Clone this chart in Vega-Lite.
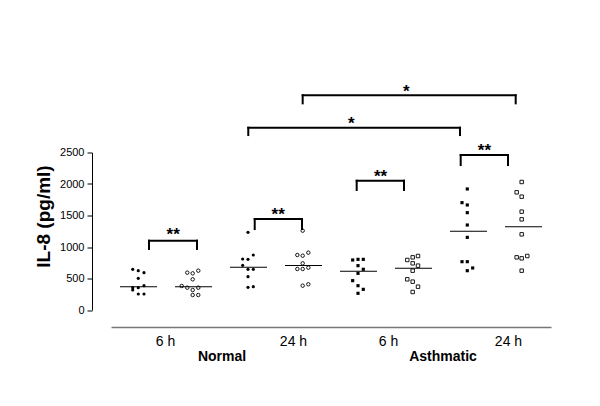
{
  "$schema": "https://vega.github.io/schema/vega-lite/v6.json",
  "autosize": {"type": "none"},
  "width": 440,
  "height": 157.5,
  "padding": {"left": 111, "top": 152.5, "right": 49, "bottom": 96},
  "background": "white",
  "config": {"view": {"stroke": null}, "font": "Liberation Sans", "axis": {"grid": false}},
  "datasets": {
    "points": [
      {"group": "Normal", "time": "6 h", "series": "a", "col": 1, "x": 0.895, "il8": 646},
      {"group": "Normal", "time": "6 h", "series": "a", "col": 1, "x": 0.996, "il8": 624},
      {"group": "Normal", "time": "6 h", "series": "a", "col": 1, "x": 1.1, "il8": 593},
      {"group": "Normal", "time": "6 h", "series": "a", "col": 1, "x": 0.996, "il8": 503},
      {"group": "Normal", "time": "6 h", "series": "a", "col": 1, "x": 0.895, "il8": 354},
      {"group": "Normal", "time": "6 h", "series": "a", "col": 1, "x": 0.895, "il8": 317},
      {"group": "Normal", "time": "6 h", "series": "a", "col": 1, "x": 0.996, "il8": 354},
      {"group": "Normal", "time": "6 h", "series": "a", "col": 1, "x": 1.1, "il8": 386},
      {"group": "Normal", "time": "6 h", "series": "a", "col": 1, "x": 0.996, "il8": 254},
      {"group": "Normal", "time": "6 h", "series": "a", "col": 1, "x": 1.1, "il8": 254},
      {"group": "Normal", "time": "6 h", "series": "b", "col": 2, "x": 1.887, "il8": 593},
      {"group": "Normal", "time": "6 h", "series": "b", "col": 2, "x": 1.985, "il8": 582},
      {"group": "Normal", "time": "6 h", "series": "b", "col": 2, "x": 2.087, "il8": 624},
      {"group": "Normal", "time": "6 h", "series": "b", "col": 2, "x": 1.985, "il8": 487},
      {"group": "Normal", "time": "6 h", "series": "b", "col": 2, "x": 1.785, "il8": 381},
      {"group": "Normal", "time": "6 h", "series": "b", "col": 2, "x": 1.887, "il8": 354},
      {"group": "Normal", "time": "6 h", "series": "b", "col": 2, "x": 1.985, "il8": 317},
      {"group": "Normal", "time": "6 h", "series": "b", "col": 2, "x": 2.087, "il8": 354},
      {"group": "Normal", "time": "6 h", "series": "b", "col": 2, "x": 1.985, "il8": 238},
      {"group": "Normal", "time": "6 h", "series": "b", "col": 2, "x": 2.087, "il8": 238},
      {"group": "Normal", "time": "24 h", "series": "a", "col": 3, "x": 2.991, "il8": 1233},
      {"group": "Normal", "time": "24 h", "series": "a", "col": 3, "x": 2.894, "il8": 810},
      {"group": "Normal", "time": "24 h", "series": "a", "col": 3, "x": 2.991, "il8": 804},
      {"group": "Normal", "time": "24 h", "series": "a", "col": 3, "x": 3.087, "il8": 873},
      {"group": "Normal", "time": "24 h", "series": "a", "col": 3, "x": 2.894, "il8": 709},
      {"group": "Normal", "time": "24 h", "series": "a", "col": 3, "x": 2.991, "il8": 646},
      {"group": "Normal", "time": "24 h", "series": "a", "col": 3, "x": 3.087, "il8": 646},
      {"group": "Normal", "time": "24 h", "series": "a", "col": 3, "x": 2.991, "il8": 529},
      {"group": "Normal", "time": "24 h", "series": "a", "col": 3, "x": 2.991, "il8": 360},
      {"group": "Normal", "time": "24 h", "series": "a", "col": 3, "x": 3.087, "il8": 370},
      {"group": "Normal", "time": "24 h", "series": "b", "col": 4, "x": 3.985, "il8": 1259},
      {"group": "Normal", "time": "24 h", "series": "b", "col": 4, "x": 3.888, "il8": 873},
      {"group": "Normal", "time": "24 h", "series": "b", "col": 4, "x": 3.985, "il8": 862},
      {"group": "Normal", "time": "24 h", "series": "b", "col": 4, "x": 4.088, "il8": 910},
      {"group": "Normal", "time": "24 h", "series": "b", "col": 4, "x": 3.985, "il8": 741},
      {"group": "Normal", "time": "24 h", "series": "b", "col": 4, "x": 3.888, "il8": 651},
      {"group": "Normal", "time": "24 h", "series": "b", "col": 4, "x": 3.985, "il8": 651},
      {"group": "Normal", "time": "24 h", "series": "b", "col": 4, "x": 4.088, "il8": 672},
      {"group": "Normal", "time": "24 h", "series": "b", "col": 4, "x": 3.985, "il8": 386},
      {"group": "Normal", "time": "24 h", "series": "b", "col": 4, "x": 4.088, "il8": 408},
      {"group": "Asthmatic", "time": "6 h", "series": "a", "col": 5, "x": 4.894, "il8": 794},
      {"group": "Asthmatic", "time": "6 h", "series": "a", "col": 5, "x": 4.991, "il8": 804},
      {"group": "Asthmatic", "time": "6 h", "series": "a", "col": 5, "x": 5.087, "il8": 804},
      {"group": "Asthmatic", "time": "6 h", "series": "a", "col": 5, "x": 4.991, "il8": 704},
      {"group": "Asthmatic", "time": "6 h", "series": "a", "col": 5, "x": 5.087, "il8": 646},
      {"group": "Asthmatic", "time": "6 h", "series": "a", "col": 5, "x": 4.991, "il8": 582},
      {"group": "Asthmatic", "time": "6 h", "series": "a", "col": 5, "x": 4.894, "il8": 466},
      {"group": "Asthmatic", "time": "6 h", "series": "a", "col": 5, "x": 4.991, "il8": 386},
      {"group": "Asthmatic", "time": "6 h", "series": "a", "col": 5, "x": 5.087, "il8": 328},
      {"group": "Asthmatic", "time": "6 h", "series": "a", "col": 5, "x": 4.991, "il8": 265},
      {"group": "Asthmatic", "time": "6 h", "series": "b", "col": 6, "x": 5.887, "il8": 794},
      {"group": "Asthmatic", "time": "6 h", "series": "b", "col": 6, "x": 5.985, "il8": 836},
      {"group": "Asthmatic", "time": "6 h", "series": "b", "col": 6, "x": 6.082, "il8": 857},
      {"group": "Asthmatic", "time": "6 h", "series": "b", "col": 6, "x": 5.985, "il8": 741},
      {"group": "Asthmatic", "time": "6 h", "series": "b", "col": 6, "x": 6.082, "il8": 704},
      {"group": "Asthmatic", "time": "6 h", "series": "b", "col": 6, "x": 5.985, "il8": 624},
      {"group": "Asthmatic", "time": "6 h", "series": "b", "col": 6, "x": 5.887, "il8": 487},
      {"group": "Asthmatic", "time": "6 h", "series": "b", "col": 6, "x": 5.985, "il8": 450},
      {"group": "Asthmatic", "time": "6 h", "series": "b", "col": 6, "x": 6.082, "il8": 370},
      {"group": "Asthmatic", "time": "6 h", "series": "b", "col": 6, "x": 5.985, "il8": 286},
      {"group": "Asthmatic", "time": "24 h", "series": "a", "col": 7, "x": 6.978, "il8": 1921},
      {"group": "Asthmatic", "time": "24 h", "series": "a", "col": 7, "x": 6.882, "il8": 1704},
      {"group": "Asthmatic", "time": "24 h", "series": "a", "col": 7, "x": 6.978, "il8": 1667},
      {"group": "Asthmatic", "time": "24 h", "series": "a", "col": 7, "x": 6.978, "il8": 1545},
      {"group": "Asthmatic", "time": "24 h", "series": "a", "col": 7, "x": 6.978, "il8": 1349},
      {"group": "Asthmatic", "time": "24 h", "series": "a", "col": 7, "x": 6.978, "il8": 1153},
      {"group": "Asthmatic", "time": "24 h", "series": "a", "col": 7, "x": 6.882, "il8": 767},
      {"group": "Asthmatic", "time": "24 h", "series": "a", "col": 7, "x": 6.978, "il8": 767},
      {"group": "Asthmatic", "time": "24 h", "series": "a", "col": 7, "x": 6.978, "il8": 624},
      {"group": "Asthmatic", "time": "24 h", "series": "a", "col": 7, "x": 7.076, "il8": 667},
      {"group": "Asthmatic", "time": "24 h", "series": "b", "col": 8, "x": 7.967, "il8": 2032},
      {"group": "Asthmatic", "time": "24 h", "series": "b", "col": 8, "x": 7.876, "il8": 1868},
      {"group": "Asthmatic", "time": "24 h", "series": "b", "col": 8, "x": 7.967, "il8": 1799},
      {"group": "Asthmatic", "time": "24 h", "series": "b", "col": 8, "x": 7.967, "il8": 1561},
      {"group": "Asthmatic", "time": "24 h", "series": "b", "col": 8, "x": 7.967, "il8": 1439},
      {"group": "Asthmatic", "time": "24 h", "series": "b", "col": 8, "x": 7.967, "il8": 1201},
      {"group": "Asthmatic", "time": "24 h", "series": "b", "col": 8, "x": 7.876, "il8": 836},
      {"group": "Asthmatic", "time": "24 h", "series": "b", "col": 8, "x": 7.967, "il8": 820},
      {"group": "Asthmatic", "time": "24 h", "series": "b", "col": 8, "x": 8.069, "il8": 857},
      {"group": "Asthmatic", "time": "24 h", "series": "b", "col": 8, "x": 7.967, "il8": 624}
    ],
    "brackets": [
      {"x1": 1.191, "x2": 2.064, "top": 1100, "bottom": 968, "xm": 1.63, "ys": 1238, "label": "**"},
      {"x1": 3.113, "x2": 3.973, "top": 1444, "bottom": 1285, "xm": 3.54, "ys": 1560, "label": "**"},
      {"x1": 4.967, "x2": 5.827, "top": 2052, "bottom": 1905, "xm": 5.4, "ys": 2158, "label": "**"},
      {"x1": 6.858, "x2": 7.718, "top": 2460, "bottom": 2301, "xm": 7.29, "ys": 2566, "label": "**"},
      {"x1": 2.996, "x2": 6.845, "top": 2893, "bottom": 2777, "xm": 4.87, "ys": 3000, "label": "*"},
      {"x1": 3.985, "x2": 7.858, "top": 3407, "bottom": 3280, "xm": 5.87, "ys": 3502, "label": "*"}
    ],
    "groups": [
      {"name": "Normal", "xm": 2.518},
      {"name": "Asthmatic", "xm": 6.536}
    ]
  },
  "layer": [
    {
      "data": {"name": "points"},
      "mark": {"type": "point", "filled": false, "opacity": 1, "stroke": "black"},
      "encoding": {
        "x": {
          "field": "x", "type": "quantitative",
          "scale": {"domain": [0.5, 8.5], "nice": false, "zero": false},
          "axis": {
            "values": [1.482, 3.809, 5.536, 7.718],
            "labelExpr": "datum.value < 2 || (datum.value > 5 && datum.value < 6) ? '6 h' : '24 h'",
            "ticks": false, "domainColor": "#777777", "domainWidth": 1.5, "offset": 17,
            "labelPadding": 7, "labelFontSize": 14, "labelColor": "black", "labelFont": "Liberation Sans",
            "labelFlush": false, "labelOverlap": false, "title": null
          }
        },
        "y": {
          "field": "il8", "type": "quantitative",
          "scale": {"domain": [0, 2500], "nice": false, "zero": true},
          "axis": {
            "values": [0, 500, 1000, 1500, 2000, 2500], "format": "d", "offset": 19, "tickSize": 5,
            "tickColor": "black", "domainColor": "black", "labelFontSize": 11, "labelColor": "black",
            "labelFont": "Liberation Sans", "labelPadding": 3, "labelFlush": false, "labelOverlap": false,
            "title": "IL-8 (pg/ml)", "titleFontSize": 19, "titleFontWeight": "bold", "titleColor": "black",
            "titleFont": "Liberation Sans", "titleX": -39, "titleY": 63.5
          }
        },
        "shape": {"field": "group", "type": "nominal", "scale": {"domain": ["Normal", "Asthmatic"], "range": ["circle", "square"]}, "legend": null},
        "fill": {"field": "series", "type": "nominal", "scale": {"domain": ["a", "b"], "range": ["black", "white"]}, "legend": null},
        "size": {"field": "series", "type": "nominal", "scale": {"domain": ["a", "b"], "range": [10, 12]}, "legend": null},
        "strokeWidth": {"field": "series", "type": "nominal", "scale": {"domain": ["a", "b"], "range": [0, 0.9]}, "legend": null}
      }
    },
    {
      "data": {"name": "points"},
      "mark": {"type": "tick", "orient": "horizontal", "size": 37, "thickness": 1, "color": "black", "opacity": 1},
      "encoding": {
        "x": {
          "field": "col", "type": "quantitative",
          "axis": {
            "values": [1.482, 3.809, 5.536, 7.718],
            "labelExpr": "datum.value < 2 || (datum.value > 5 && datum.value < 6) ? '6 h' : '24 h'",
            "ticks": false, "domainColor": "#777777", "domainWidth": 1.5, "offset": 17,
            "labelPadding": 7, "labelFontSize": 14, "labelColor": "black", "labelFont": "Liberation Sans",
            "labelFlush": false, "labelOverlap": false, "title": null
          }
        },
        "y": {
          "aggregate": "median", "field": "il8", "type": "quantitative",
          "axis": {
            "values": [0, 500, 1000, 1500, 2000, 2500], "format": "d", "offset": 19, "tickSize": 5,
            "tickColor": "black", "domainColor": "black", "labelFontSize": 11, "labelColor": "black",
            "labelFont": "Liberation Sans", "labelPadding": 3, "labelFlush": false, "labelOverlap": false,
            "title": "IL-8 (pg/ml)", "titleFontSize": 19, "titleFontWeight": "bold", "titleColor": "black",
            "titleFont": "Liberation Sans", "titleX": -39, "titleY": 63.5
          }
        }
      }
    },
    {
      "data": {"name": "brackets"},
      "mark": {"type": "rule", "strokeWidth": 2, "strokeCap": "square", "color": "black"},
      "encoding": {
        "x": {
          "field": "x1", "type": "quantitative",
          "axis": {
            "values": [1.482, 3.809, 5.536, 7.718],
            "labelExpr": "datum.value < 2 || (datum.value > 5 && datum.value < 6) ? '6 h' : '24 h'",
            "ticks": false, "domainColor": "#777777", "domainWidth": 1.5, "offset": 17,
            "labelPadding": 7, "labelFontSize": 14, "labelColor": "black", "labelFont": "Liberation Sans",
            "labelFlush": false, "labelOverlap": false, "title": null
          }
        },
        "x2": {"field": "x2"},
        "y": {
          "field": "top", "type": "quantitative",
          "axis": {
            "values": [0, 500, 1000, 1500, 2000, 2500], "format": "d", "offset": 19, "tickSize": 5,
            "tickColor": "black", "domainColor": "black", "labelFontSize": 11, "labelColor": "black",
            "labelFont": "Liberation Sans", "labelPadding": 3, "labelFlush": false, "labelOverlap": false,
            "title": "IL-8 (pg/ml)", "titleFontSize": 19, "titleFontWeight": "bold", "titleColor": "black",
            "titleFont": "Liberation Sans", "titleX": -39, "titleY": 63.5
          }
        }
      }
    },
    {
      "data": {"name": "brackets"},
      "mark": {"type": "rule", "strokeWidth": 2, "strokeCap": "square", "color": "black"},
      "encoding": {
        "x": {
          "field": "x1", "type": "quantitative",
          "axis": {
            "values": [1.482, 3.809, 5.536, 7.718],
            "labelExpr": "datum.value < 2 || (datum.value > 5 && datum.value < 6) ? '6 h' : '24 h'",
            "ticks": false, "domainColor": "#777777", "domainWidth": 1.5, "offset": 17,
            "labelPadding": 7, "labelFontSize": 14, "labelColor": "black", "labelFont": "Liberation Sans",
            "labelFlush": false, "labelOverlap": false, "title": null
          }
        },
        "y": {
          "field": "bottom", "type": "quantitative",
          "axis": {
            "values": [0, 500, 1000, 1500, 2000, 2500], "format": "d", "offset": 19, "tickSize": 5,
            "tickColor": "black", "domainColor": "black", "labelFontSize": 11, "labelColor": "black",
            "labelFont": "Liberation Sans", "labelPadding": 3, "labelFlush": false, "labelOverlap": false,
            "title": "IL-8 (pg/ml)", "titleFontSize": 19, "titleFontWeight": "bold", "titleColor": "black",
            "titleFont": "Liberation Sans", "titleX": -39, "titleY": 63.5
          }
        },
        "y2": {"field": "top"}
      }
    },
    {
      "data": {"name": "brackets"},
      "mark": {"type": "rule", "strokeWidth": 2, "strokeCap": "square", "color": "black"},
      "encoding": {
        "x": {
          "field": "x2", "type": "quantitative",
          "axis": {
            "values": [1.482, 3.809, 5.536, 7.718],
            "labelExpr": "datum.value < 2 || (datum.value > 5 && datum.value < 6) ? '6 h' : '24 h'",
            "ticks": false, "domainColor": "#777777", "domainWidth": 1.5, "offset": 17,
            "labelPadding": 7, "labelFontSize": 14, "labelColor": "black", "labelFont": "Liberation Sans",
            "labelFlush": false, "labelOverlap": false, "title": null
          }
        },
        "y": {
          "field": "bottom", "type": "quantitative",
          "axis": {
            "values": [0, 500, 1000, 1500, 2000, 2500], "format": "d", "offset": 19, "tickSize": 5,
            "tickColor": "black", "domainColor": "black", "labelFontSize": 11, "labelColor": "black",
            "labelFont": "Liberation Sans", "labelPadding": 3, "labelFlush": false, "labelOverlap": false,
            "title": "IL-8 (pg/ml)", "titleFontSize": 19, "titleFontWeight": "bold", "titleColor": "black",
            "titleFont": "Liberation Sans", "titleX": -39, "titleY": 63.5
          }
        },
        "y2": {"field": "top"}
      }
    },
    {
      "data": {"name": "brackets"},
      "mark": {"type": "text", "font": "Liberation Sans", "fontWeight": "bold", "fontSize": 17, "baseline": "alphabetic", "dy": 8, "align": "center", "color": "black"},
      "encoding": {
        "x": {
          "field": "xm", "type": "quantitative",
          "axis": {
            "values": [1.482, 3.809, 5.536, 7.718],
            "labelExpr": "datum.value < 2 || (datum.value > 5 && datum.value < 6) ? '6 h' : '24 h'",
            "ticks": false, "domainColor": "#777777", "domainWidth": 1.5, "offset": 17,
            "labelPadding": 7, "labelFontSize": 14, "labelColor": "black", "labelFont": "Liberation Sans",
            "labelFlush": false, "labelOverlap": false, "title": null
          }
        },
        "y": {
          "field": "ys", "type": "quantitative",
          "axis": {
            "values": [0, 500, 1000, 1500, 2000, 2500], "format": "d", "offset": 19, "tickSize": 5,
            "tickColor": "black", "domainColor": "black", "labelFontSize": 11, "labelColor": "black",
            "labelFont": "Liberation Sans", "labelPadding": 3, "labelFlush": false, "labelOverlap": false,
            "title": "IL-8 (pg/ml)", "titleFontSize": 19, "titleFontWeight": "bold", "titleColor": "black",
            "titleFont": "Liberation Sans", "titleX": -39, "titleY": 63.5
          }
        },
        "text": {"field": "label"}
      }
    },
    {
      "data": {"name": "groups"},
      "mark": {"type": "text", "font": "Liberation Sans", "fontWeight": "bold", "fontSize": 14, "baseline": "alphabetic", "align": "center", "color": "black"},
      "encoding": {
        "x": {
          "field": "xm", "type": "quantitative",
          "axis": {
            "values": [1.482, 3.809, 5.536, 7.718],
            "labelExpr": "datum.value < 2 || (datum.value > 5 && datum.value < 6) ? '6 h' : '24 h'",
            "ticks": false, "domainColor": "#777777", "domainWidth": 1.5, "offset": 17,
            "labelPadding": 7, "labelFontSize": 14, "labelColor": "black", "labelFont": "Liberation Sans",
            "labelFlush": false, "labelOverlap": false, "title": null
          }
        },
        "y": {
          "datum": -810, "type": "quantitative",
          "axis": {
            "values": [0, 500, 1000, 1500, 2000, 2500], "format": "d", "offset": 19, "tickSize": 5,
            "tickColor": "black", "domainColor": "black", "labelFontSize": 11, "labelColor": "black",
            "labelFont": "Liberation Sans", "labelPadding": 3, "labelFlush": false, "labelOverlap": false,
            "title": "IL-8 (pg/ml)", "titleFontSize": 19, "titleFontWeight": "bold", "titleColor": "black",
            "titleFont": "Liberation Sans", "titleX": -39, "titleY": 63.5
          }
        },
        "text": {"field": "name"}
      }
    }
  ]
}
